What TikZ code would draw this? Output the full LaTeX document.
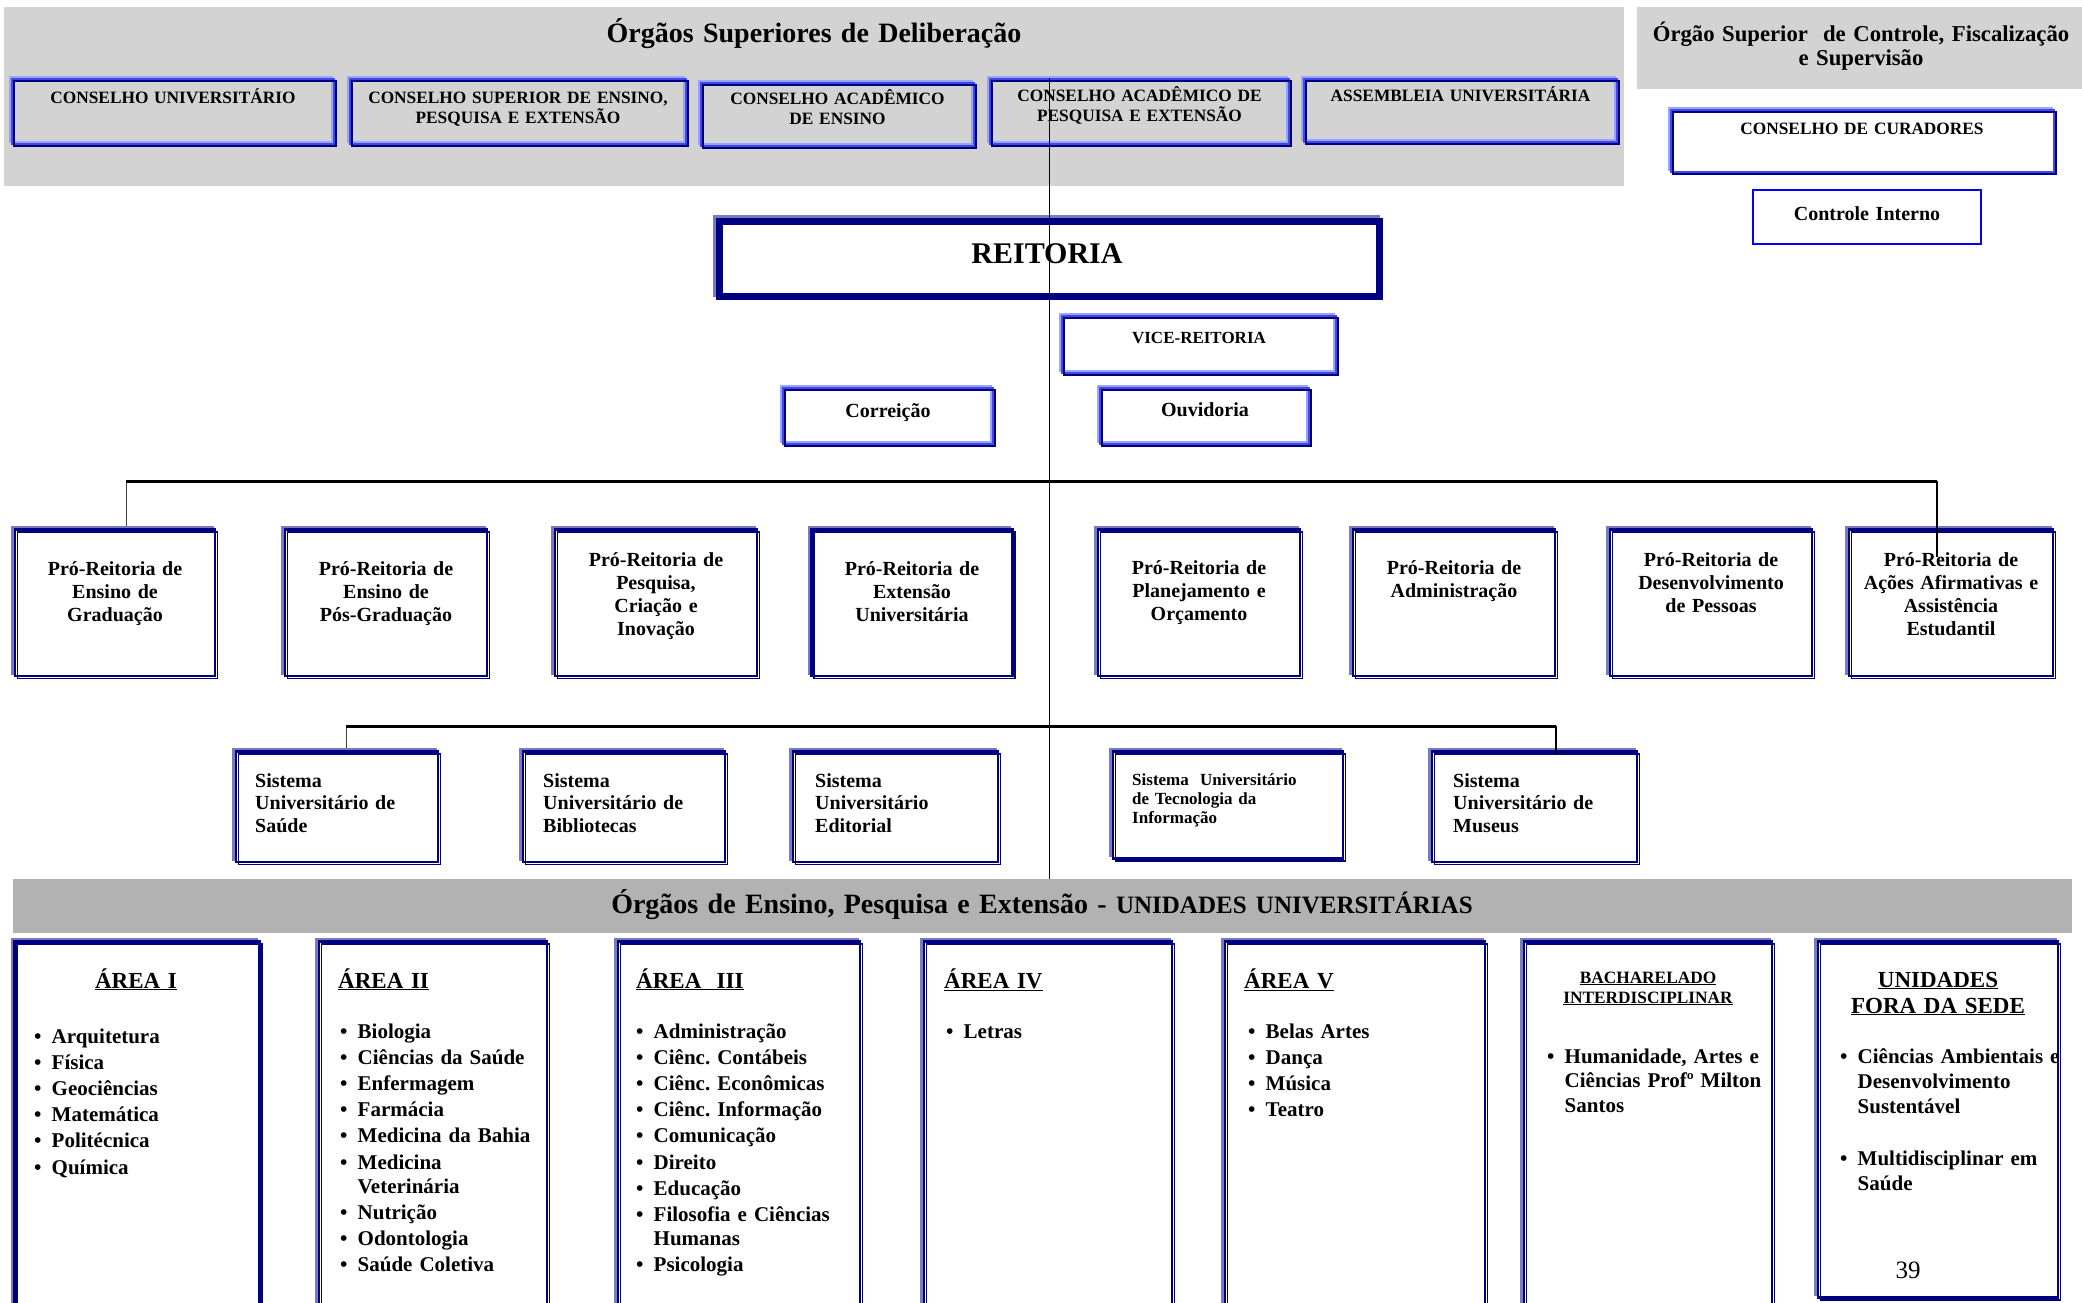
\documentclass[tikz,border=0pt]{standalone}
\usepackage{fontspec}
\setmainfont{Liberation Serif}
\frenchspacing
\definecolor{panelgray}{HTML}{D3D3D3}
\definecolor{bargray}{HTML}{B2B2B2}
\definecolor{navyblue}{HTML}{000080}
\definecolor{midblue}{HTML}{4646E6}
\definecolor{lightblue}{HTML}{94A6FF}
\definecolor{slateblue}{HTML}{7A7ABE}
\definecolor{pureblue}{HTML}{0000FF}
\newcommand{\blt}{\makebox[17.5pt][l]{\textbullet}}
\newcommand{\indt}{\hspace*{17.5pt}}
\tikzset{
  orgbox/.style={rectangle, inner sep=0pt},
  conbox/.style={orgbox, draw=midblue, line width=1.1pt,
    preaction={draw=lightblue, line width=1.5pt, transform canvas={xshift=-2pt,yshift=2pt}},
    postaction={draw=navyblue, line width=1.1pt, transform canvas={xshift=2pt,yshift=-2pt}}},
  probox/.style={orgbox, fill=white, draw=navyblue, line width=2.4pt,
    preaction={draw=slateblue, line width=2.8pt, transform canvas={xshift=-2.5pt,yshift=2.5pt}},
    postaction={draw=navyblue, line width=1.4pt, transform canvas={xshift=2.5pt,yshift=-2.5pt}}},
  reitbox/.style={orgbox, fill=white, draw=navyblue, line width=7pt,
    preaction={draw=slateblue, line width=7pt, transform canvas={xshift=-3pt,yshift=3pt}}},
  ctrlbox/.style={orgbox, fill=white, draw=pureblue, line width=2.5pt},
  txt/.style={inner sep=0pt, text width=420pt, align=center, anchor=base},
  lst/.style={inner sep=0pt, text width=320pt, align=left, anchor=base west,
    font=\fontsize{21}{26.2}\selectfont\bfseries},
  cfont/.style={font=\fontsize{17.3}{19.5}\selectfont\bfseries},
  pfont/.style={font=\fontsize{20}{23}\selectfont\bfseries},
  sfont/.style={font=\fontsize{20}{22.5}\selectfont\bfseries},
  hfont/.style={font=\fontsize{23}{26}\selectfont\bfseries},
  bus/.style={line width=3pt},
}
\begin{document}
\begin{tikzpicture}[x=1pt,y=-1pt]
\clip (0,0) rectangle (2082,1303);
\fill[white] (0,0) rectangle (2082,1303);

% deliberacao e controle
\node[orgbox, fill=panelgray, minimum width=1620pt, minimum height=179pt] (delib) at (814,96.5) {};
\node[orgbox, fill=panelgray, minimum width=453pt, minimum height=82pt] (ctlpanel) at (1863.5,48) {};
\node[txt, font=\fontsize{28}{32}\selectfont\bfseries] (delibtitle) at (814,43) {Órgãos Superiores de Deliberação};
\node[txt, font=\fontsize{22.7}{23.5}\selectfont\bfseries] (ctltitle) at (1861,41.7) {Órgão Superior\ \ de Controle, Fiscalização\\ e Supervisão};

\node[conbox, minimum width=322pt, minimum height=65pt] (cu) at (173,111.5) {};
\node[conbox, minimum width=336pt, minimum height=65pt] (csepe) at (518,111.5) {};
\node[conbox, minimum width=273pt, minimum height=63pt] (cae) at (837.5,114.5) {};
\node[conbox, minimum width=299pt, minimum height=65pt] (cape) at (1139.5,111.5) {};
\node[conbox, minimum width=313pt, minimum height=63pt] (au) at (1460.5,110.5) {};
\node[txt, cfont] (cutext) at (173,104) {CONSELHO UNIVERSITÁRIO};
\node[txt, cfont] (csepetext) at (518,104) {CONSELHO SUPERIOR DE ENSINO,\\ PESQUISA E EXTENSÃO};
\node[txt, cfont] (caetext) at (837.5,105) {CONSELHO ACADÊMICO\\ DE ENSINO};
\node[txt, cfont] (capetext) at (1139.5,102) {CONSELHO ACADÊMICO DE\\ PESQUISA E EXTENSÃO};
\node[txt, cfont] (autext) at (1460.5,102) {ASSEMBLEIA UNIVERSITÁRIA};

\node[conbox, fill=white, minimum width=383pt, minimum height=62pt] (cc) at (1862.5,141) {};
\node[txt, cfont] (cctext) at (1862,135) {CONSELHO DE CURADORES};
\node[ctrlbox, minimum width=228pt, minimum height=54pt] (ci) at (1867,217) {};
\node[txt, pfont] (citext) at (1867,220) {Controle Interno};

% reitoria
\node[reitbox, minimum width=660pt, minimum height=75pt] (reit) at (1049.5,259) {};
\node[txt, font=\fontsize{30}{34}\selectfont\bfseries] (reittext) at (1047,263) {REITORIA};
\node[conbox, minimum width=274pt, minimum height=57pt] (vice) at (1199,344.5) {};
\node[txt, font=\fontsize{17}{19}\selectfont\bfseries] (vicetext) at (1199,343) {VICE-REITORIA};
\node[conbox, minimum width=210pt, minimum height=56pt] (corr) at (888,416) {};
\node[txt, pfont] (corrtext) at (888,417) {Correição};
\node[conbox, minimum width=209pt, minimum height=56pt] (ouv) at (1204.5,416) {};
\node[txt, pfont] (ouvtext) at (1205,416) {Ouvidoria};

% pro-reitorias
\coordinate (probusL) at (126,481);
\coordinate (probusR) at (1937,481);
\coordinate (probusE) at (1937,557);
\draw[black!75, line width=1pt] (probusL) -- (probusL |- 0,527);
\node[probox, minimum width=200pt, minimum height=146.5pt] (prg) at (115,602.75) {};
\node[probox, minimum width=202pt, minimum height=146.5pt] (prpg) at (386,602.75) {};
\node[probox, minimum width=202pt, minimum height=146.5pt] (prpci) at (656,602.75) {};
\node[probox, minimum width=201pt, minimum height=146.5pt] (proext) at (912,602.75) {};
\node[probox, minimum width=202pt, minimum height=146.5pt] (proplan) at (1199,602.75) {};
\node[probox, minimum width=202pt, minimum height=146.5pt] (proad) at (1454,602.75) {};
\node[probox, minimum width=202pt, minimum height=146.5pt] (prodep) at (1711,602.75) {};
\node[probox, minimum width=204pt, minimum height=146.5pt] (proaae) at (1951,602.75) {};
\node[txt, pfont] at (115,575) {Pró-Reitoria de\\ Ensino de\\ Graduação};
\node[txt, pfont] at (386,575) {Pró-Reitoria de\\ Ensino de\\ Pós-Graduação};
\node[txt, pfont] at (656,566) {Pró-Reitoria de\\ Pesquisa,\\ Criação e\\ Inovação};
\node[txt, pfont] at (912,575) {Pró-Reitoria de\\ Extensão\\ Universitária};
\node[txt, pfont] at (1199,574) {Pró-Reitoria de\\ Planejamento e\\ Orçamento};
\node[txt, pfont] at (1454,574) {Pró-Reitoria de\\ Administração};
\node[txt, pfont] at (1711,566) {Pró-Reitoria de\\ Desenvolvimento\\ de Pessoas};
\node[txt, pfont] at (1951,566) {Pró-Reitoria de\\ Ações Afirmativas e\\ Assistência\\ Estudantil};
\draw[bus] (probusL) -- (probusR);
\draw[line width=2pt] (probusR) -- (probusE);

% sistemas
\coordinate (sisbusL) at (346,726);
\coordinate (sisbusR) at (1556,726);
\coordinate (sisbusE) at (1556,754);
\draw[black!75, line width=1pt] (sisbusL) -- (sisbusL |- 0,749);
\node[probox, minimum width=202.5pt, minimum height=110.5pt] (sus) at (337,806.75) {};
\node[probox, minimum width=202.5pt, minimum height=110.5pt] (sib) at (624,806.75) {};
\node[probox, minimum width=205pt, minimum height=110.5pt] (sue) at (895.5,806.75) {};
\node[probox, minimum width=230pt, minimum height=107pt] (suti) at (1228,805) {};
\node[probox, minimum width=205pt, minimum height=110.5pt] (sum) at (1534.5,806.75) {};
\node[lst, sfont] at (255,787) {Sistema\\ Universitário de\\ Saúde};
\node[lst, sfont] at (543,787) {Sistema\\ Universitário de\\ Bibliotecas};
\node[lst, sfont] at (815,787) {Sistema\\ Universitário\\ Editorial};
\node[lst, font=\fontsize{17}{19}\selectfont\bfseries] at (1132,785) {Sistema\ \ Universitário\\ de Tecnologia da\\ Informação};
\node[lst, sfont] at (1453,787) {Sistema\\ Universitário de\\ Museus};
\draw[bus] (sisbusL) -- (sisbusR);
\draw[line width=2pt] (sisbusR) -- (sisbusE);

% unidades universitarias
\node[orgbox, fill=bargray, minimum width=2059pt, minimum height=54pt] (ensbar) at (1042.5,906) {};
\node[txt, text width=1200pt, font=\fontsize{28}{32}\selectfont\bfseries] (enstitle) at (1042,913) {Órgãos de Ensino, Pesquisa e Extensão - {\fontsize{25}{28}\selectfont UNIDADES UNIVERSITÁRIAS}};
\draw[line width=1.2pt] (reit.center |- cape.north) -- (reit.center |- ensbar.north);

\node[probox, minimum width=245pt, minimum height=388pt] (area1) at (137,1135.5) {};
\node[probox, minimum width=227.5pt, minimum height=388pt] (area2) at (433,1135.5) {};
\node[probox, minimum width=242.5pt, minimum height=388pt] (area3) at (739,1135.5) {};
\node[probox, minimum width=247.5pt, minimum height=388pt] (area4) at (1048,1135.5) {};
\node[probox, minimum width=259.5pt, minimum height=388pt] (area5) at (1355,1135.5) {};
\node[probox, minimum width=247.5pt, minimum height=388pt] (bi) at (1648,1135.5) {};
\node[probox, minimum width=240.5pt, minimum height=356pt] (ufs) at (1938,1119.5) {};

\node[txt, hfont] at (136,988) {\underline{ÁREA I}};
\node[lst, hfont] at (338,988) {\underline{ÁREA II}};
\node[lst, hfont] at (636,988) {\underline{ÁREA\ \ III}};
\node[lst, hfont] at (944,988) {\underline{ÁREA IV}};
\node[lst, hfont] at (1244,988) {\underline{ÁREA V}};
\node[txt, font=\fontsize{17.3}{20}\selectfont\bfseries] at (1648,983) {\underline{BACHARELADO}\\ \underline{INTERDISCIPLINAR}};
\node[txt, hfont] at (1938,987) {\underline{UNIDADES}\\ \underline{FORA DA SEDE}};

\node[lst] at (34,1043) {\blt Arquitetura\\ \blt Física\\ \blt Geociências\\ \blt Matemática\\ \blt Politécnica\\ \blt Química};
\node[lst] at (340,1038) {\blt Biologia\\ \blt Ciências da Saúde\\ \blt Enfermagem\\ \blt Farmácia\\ \blt Medicina da Bahia\\ \blt Medicina\\[-2pt] \indt Veterinária\\ \blt Nutrição\\ \blt Odontologia\\ \blt Saúde Coletiva};
\node[lst] at (636,1038) {\blt Administração\\ \blt Ciênc. Contábeis\\ \blt Ciênc. Econômicas\\ \blt Ciênc. Informação\\ \blt Comunicação\\ \blt Direito\\ \blt Educação\\ \blt Filosofia e Ciências\\[-2pt] \indt Humanas\\ \blt Psicologia};
\node[lst] at (946,1038) {\blt Letras};
\node[lst] at (1248,1038) {\blt Belas Artes\\ \blt Dança\\ \blt Música\\ \blt Teatro};
\node[lst, font=\fontsize{21}{24.5}\selectfont\bfseries] at (1547,1063) {\blt Humanidade, Artes e\\ \indt Ciências Profº Milton\\ \indt Santos};
\node[lst, font=\fontsize{21}{25}\selectfont\bfseries] at (1840,1063) {\blt Ciências Ambientais e\\ \indt Desenvolvimento\\ \indt Sustentável\\[27pt] \blt Multidisciplinar em\\ \indt Saúde};
\node[txt, font=\fontsize{25}{28}\selectfont] (pagenum) at (1908,1278) {39};

\end{tikzpicture}
\end{document}
